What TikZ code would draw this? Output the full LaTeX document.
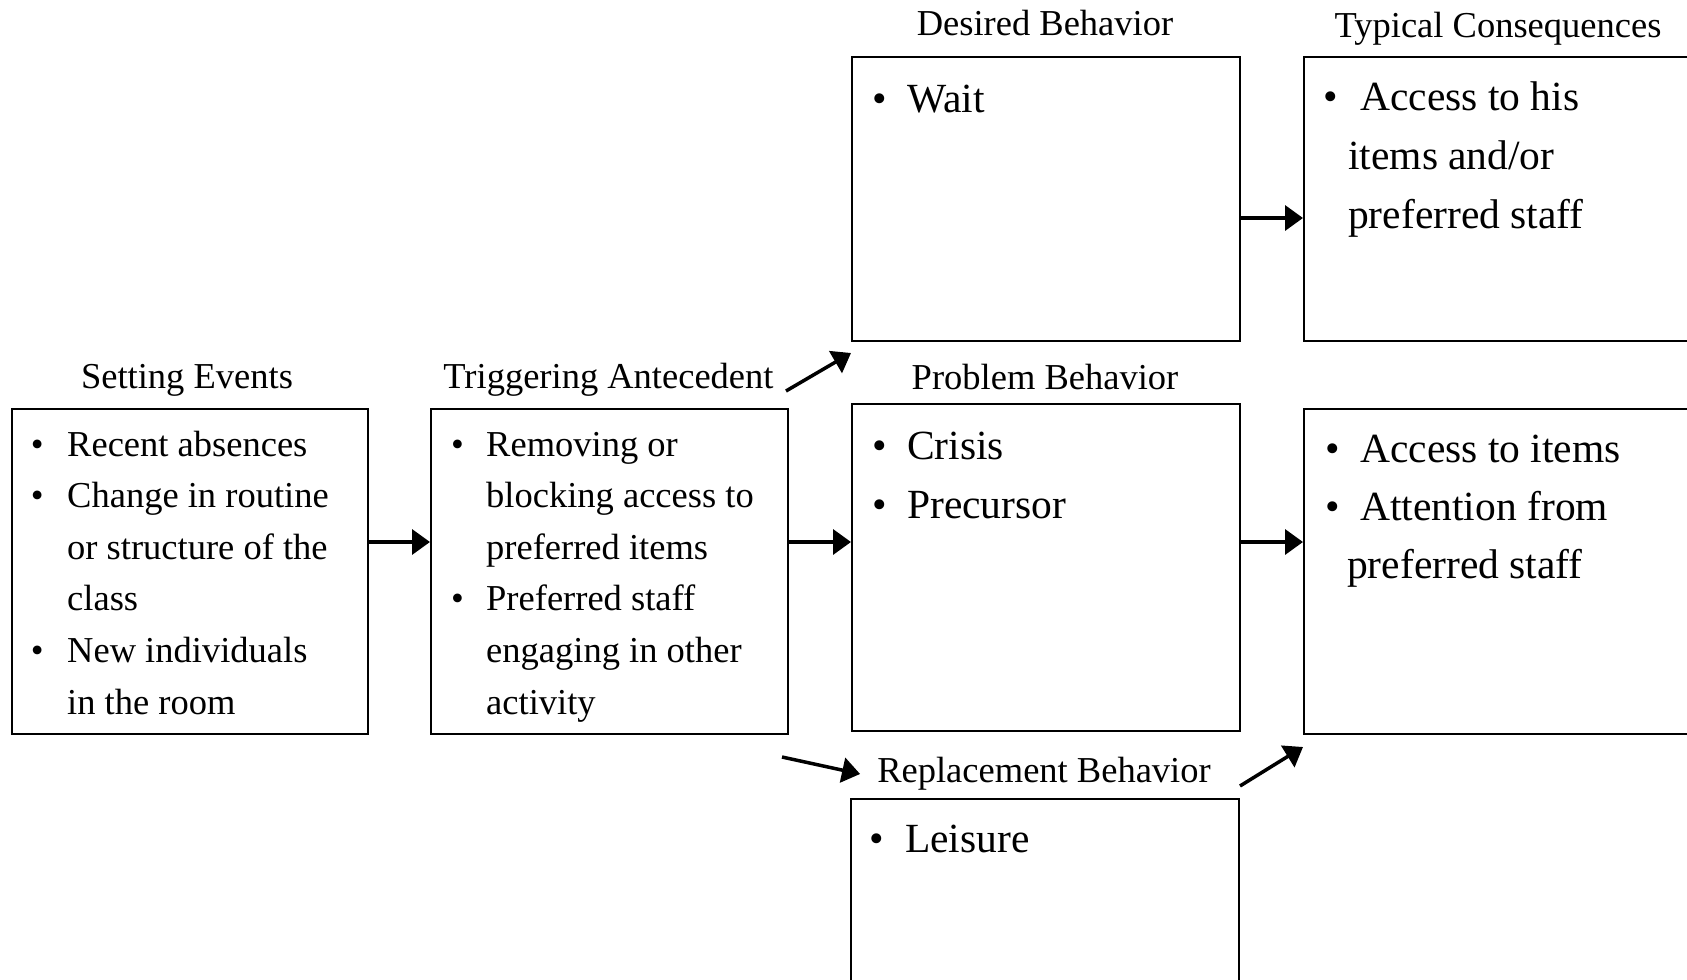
\documentclass[tikz,border=0pt]{standalone}
\usepackage{fontspec}
\setmainfont{Liberation Serif}
\usetikzlibrary{arrows.meta,calc}
\begin{document}
\begin{tikzpicture}[x=1pt,y=-1pt,
  box/.style={draw=black,line width=2pt,anchor=north west,inner sep=0pt},
  ttl/.style={anchor=base,inner sep=0pt,font=\fontsize{36.5}{44}\selectfont},
  sm/.style={anchor=base west,inner sep=0pt,font=\fontsize{36.5}{44}\selectfont},
  lg/.style={anchor=base west,inner sep=0pt,font=\fontsize{41.5}{50}\selectfont},
  arr/.style={line width=3.5pt,-{Triangle[length=18pt,width=25pt]}}]
\useasboundingbox[fill=white] (0,0) rectangle (1687,980);
% boxes
\node[box,minimum width=356pt,minimum height=325pt] (se) at (11,408) {};
\node[box,minimum width=357pt,minimum height=325pt] (tr) at (430,408) {};
\node[box,minimum width=388pt,minimum height=284pt] (db) at (851,56) {};
\node[box,minimum width=388pt,minimum height=327pt] (pb) at (851,403) {};
\node[box,minimum width=388pt,minimum height=230pt] (rb) at (850,798) {};
\node[box,minimum width=400pt,minimum height=284pt] (tc) at (1303,56) {};
\node[box,minimum width=400pt,minimum height=325pt] (cq) at (1303,408) {};
% titles
\node[ttl] (set) at (187,388) {Setting Events};
\node[ttl] (trt) at (608.5,388) {Triggering Antecedent};
\node[ttl] (dbt) at (1045,35.5) {Desired Behavior};
\node[ttl] (tct) at (1498,37) {Typical Consequences};
\node[ttl] (pbt) at (1045,389) {Problem Behavior};
\node[ttl] (rbt) at (1044,782) {Replacement Behavior};
% setting events text
\node[sm] (se-b1) at (30.6,456) {\textbullet};
\node[sm] (se-1) at (67,456) {Recent absences};
\node[sm] (se-b2) at (30.6,507.6) {\textbullet};
\node[sm] (se-2) at (67,507.6) {Change in routine};
\node[sm] (se-3) at (67,559.2) {or structure of the};
\node[sm] (se-4) at (67,610.8) {class};
\node[sm] (se-b5) at (30.6,662.4) {\textbullet};
\node[sm] (se-5) at (67,662.4) {New individuals};
\node[sm] (se-6) at (67,714) {in the room};
% trigger text
\node[sm] (tr-b1) at (451,456) {\textbullet};
\node[sm] (tr-1) at (486,456) {Removing or};
\node[sm] (tr-2) at (486,507.6) {blocking access to};
\node[sm] (tr-3) at (486,559.2) {preferred items};
\node[sm] (tr-b4) at (451,610.8) {\textbullet};
\node[sm] (tr-4) at (486,610.8) {Preferred staff};
\node[sm] (tr-5) at (486,662.4) {engaging in other};
\node[sm] (tr-6) at (486,714) {activity};
% desired
\node[lg] (db-b1) at (872,112) {\textbullet};
\node[lg] (db-1) at (907,112) {Wait};
% problem
\node[lg] (pb-b1) at (872,459) {\textbullet};
\node[lg] (pb-1) at (907,459) {Crisis};
\node[lg] (pb-b2) at (872,518) {\textbullet};
\node[lg] (pb-2) at (907,518) {Precursor};
% replacement
\node[lg] (rb-b1) at (869,852) {\textbullet};
\node[lg] (rb-1) at (905,852) {Leisure};
% typical consequences
\node[lg] (tc-b1) at (1323,110) {\textbullet};
\node[lg] (tc-1) at (1360,110) {Access to his};
\node[lg] (tc-2) at (1348,169) {items and/or};
\node[lg] (tc-3) at (1348,228) {preferred staff};
% consequences
\node[lg] (cq-b1) at (1325,462) {\textbullet};
\node[lg] (cq-1) at (1360,462) {Access to items};
\node[lg] (cq-b2) at (1325,520) {\textbullet};
\node[lg] (cq-2) at (1360,520) {Attention from};
\node[lg] (cq-3) at (1347,578) {preferred staff};
% arrows
\coordinate (ymid) at (0,542);
\coordinate (ytop) at (0,218);
\draw[arr] (se.east |- ymid) -- (tr.west |- ymid);
\draw[arr] (tr.east |- ymid) -- (pb.west |- ymid);
\draw[arr] (pb.east |- ymid) -- (cq.west |- ymid);
\draw[arr] (db.east |- ytop) -- (tc.west |- ytop);
\coordinate (d1s) at (786,391);
\draw[arr] (d1s) -- ($(db.south west)+(0,11)$);
\coordinate (r1s) at (782,757);
\draw[arr] (r1s) -- ($(rbt.base west)+(-17,-8)$);
\draw[arr] ($(rb.north east)+(0,-12)$) -- ($(cq.south west)+(0,12)$);
\end{tikzpicture}
\end{document}
